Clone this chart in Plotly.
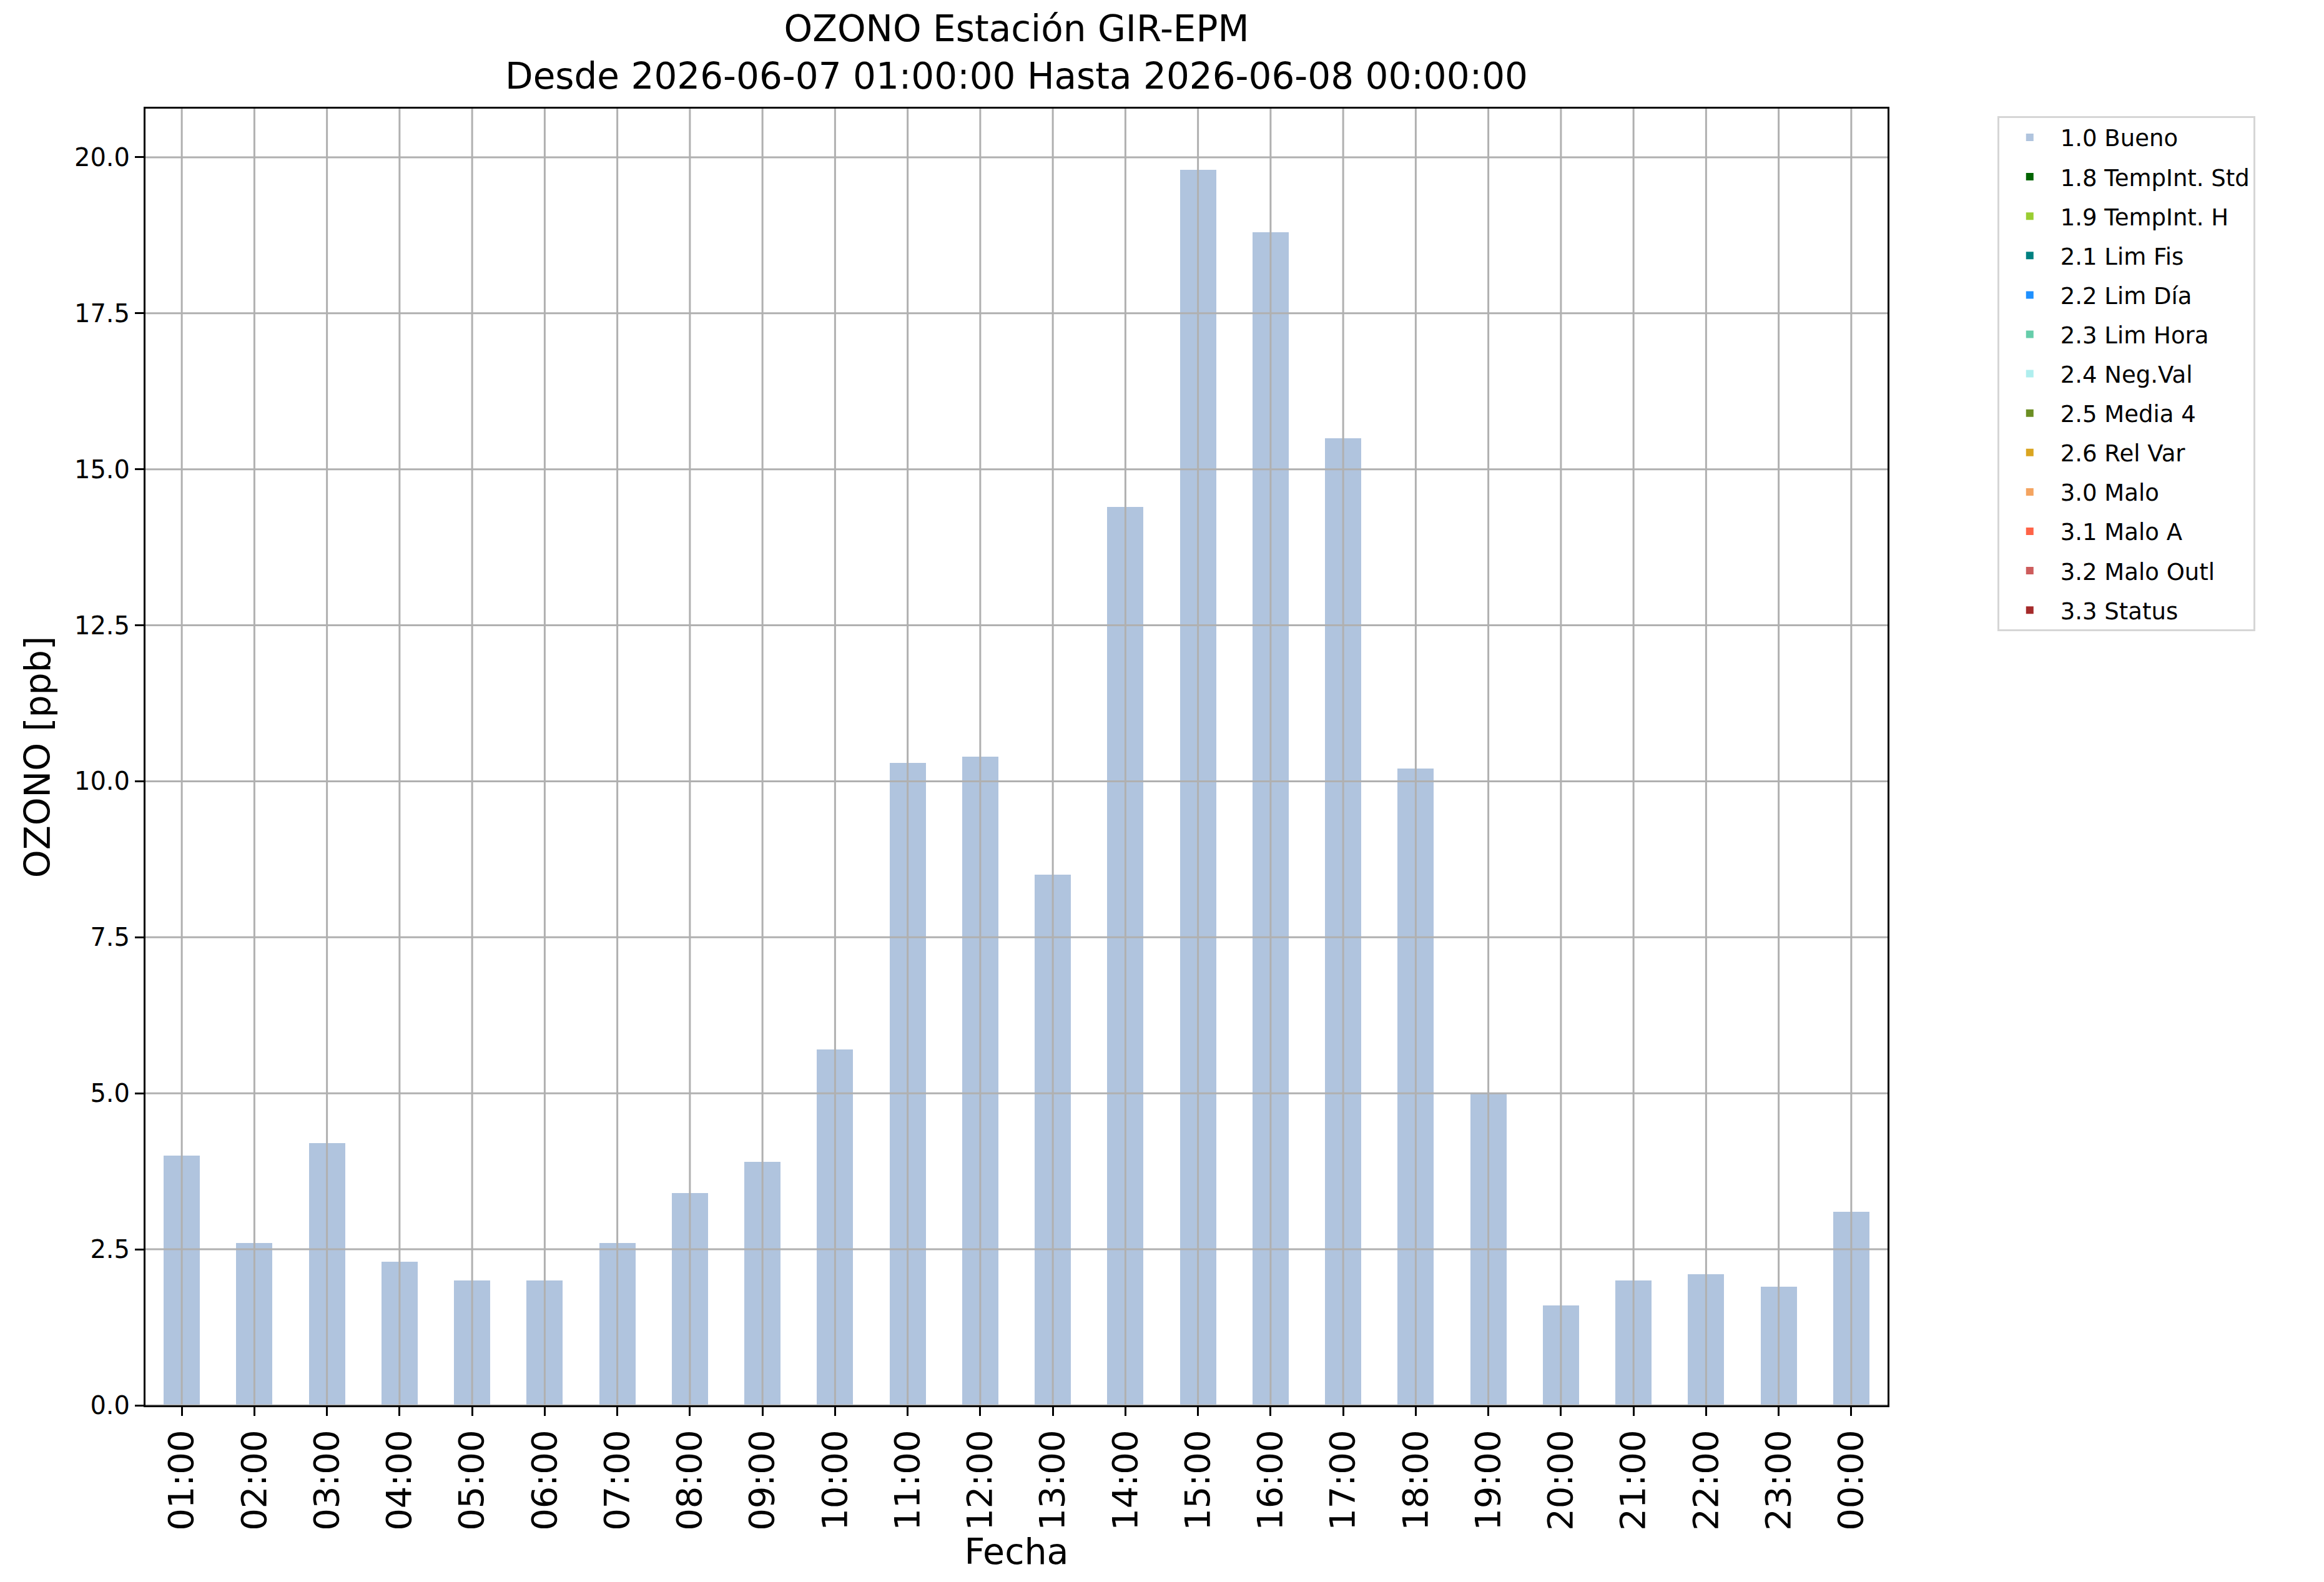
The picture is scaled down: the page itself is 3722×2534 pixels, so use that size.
import plotly.graph_objects as go

# Datos
horas = ["01:00", "02:00", "03:00", "04:00", "05:00", "06:00", "07:00", "08:00",
         "09:00", "10:00", "11:00", "12:00", "13:00", "14:00", "15:00", "16:00",
         "17:00", "18:00", "19:00", "20:00", "21:00", "22:00", "23:00", "00:00"]
ozono_bueno = [4.0, 2.6, 4.2, 2.3, 2.0, 2.0, 2.6, 3.4, 3.9, 5.7, 10.3, 10.4,
               8.5, 14.4, 19.8, 18.8, 15.5, 10.2, 5.0, 1.6, 2.0, 2.1, 1.9, 3.1]

flags = ["1.0 Bueno", "1.8 TempInt. Std", "1.9 TempInt. H", "2.1 Lim Fis",
         "2.2 Lim Día", "2.3 Lim Hora", "2.4 Neg.Val", "2.5 Media 4",
         "2.6 Rel Var", "3.0 Malo", "3.1 Malo A", "3.2 Malo Outl", "3.3 Status"]
colores = ["#B0C4DE", "#006400", "#9ACD32", "#008080", "#1E90FF", "#66CDAA",
           "#AFEEEE", "#6B8E23", "#DAA520", "#F4A460", "#FF6347", "#CD5C5C",
           "#A52A2A"]

y_ticks = [0.0, 2.5, 5.0, 7.5, 10.0, 12.5, 15.0, 17.5, 20.0]

FONT = "DejaVu Sans"
GRID = "#b0b0b0"

fig = go.Figure()

# solo la bandera "Bueno" tiene datos, el resto queda vacio (como en pandas)
for i, (nombre, color) in enumerate(zip(flags, colores)):
    valores = ozono_bueno if i == 0 else [None] * len(horas)
    fig.add_trace(go.Bar(
        x=horas,
        y=valores,
        name=nombre,
        marker_color=color,
        marker_line_width=0,
        width=0.5,
        legendgroup=nombre,
    ))

# rejilla encima de las barras (estilo matplotlib)
for h in horas:
    fig.add_shape(type="line", xref="x", yref="paper", x0=h, x1=h, y0=0, y1=1,
                  line=dict(color=GRID, width=3), layer="above")
for v in y_ticks:
    fig.add_shape(type="line", xref="paper", yref="y", x0=0, x1=1, y0=v, y1=v,
                  line=dict(color=GRID, width=3), layer="above")

fig.update_layout(
    width=3722,
    height=2534,
    barmode="stack",
    plot_bgcolor="white",
    paper_bgcolor="white",
    font=dict(family=FONT, color="black", size=40),
    margin=dict(l=225, r=707, t=166, b=291, autoexpand=False),
    title=dict(
        text="OZONO Estación GIR-EPM<br>Desde 2026-06-07 01:00:00 Hasta 2026-06-08 00:00:00",
        x=0.5, xref="paper", xanchor="center",
        y=0.977, yref="container", yanchor="top",
        font=dict(family=FONT, size=58, color="black"),
    ),
    legend=dict(
        x=1.063, y=0.994, xanchor="left", yanchor="top",
        bgcolor="white", bordercolor="#d6d6d6", borderwidth=3,
        font=dict(family=FONT, size=37, color="black"),
        tracegroupgap=12,
        itemwidth=88,
        traceorder="grouped",
    ),
    showlegend=True,
)

fig.update_xaxes(
    type="category",
    range=[-0.5, 23.5],
    tickangle=-90,
    tickfont=dict(family=FONT, size=56),
    ticks="outside", ticklen=14, tickwidth=3, tickcolor="black",
    showline=True, linecolor="black", linewidth=3, mirror=True,
    showgrid=False, zeroline=False, automargin=False,
    title=dict(text="Fecha", font=dict(family=FONT, size=57), standoff=4),
)

fig.update_yaxes(
    range=[0, 20.78],
    tickvals=y_ticks,
    tickformat=".1f",
    tickfont=dict(family=FONT, size=40),
    ticks="outside", ticklen=14, tickwidth=3, tickcolor="black",
    showline=True, linecolor="black", linewidth=3, mirror=True,
    showgrid=False, zeroline=False, automargin=False,
    title=dict(text="OZONO [ppb]", font=dict(family=FONT, size=57), standoff=20),
)

fig.write_html("out.html")
